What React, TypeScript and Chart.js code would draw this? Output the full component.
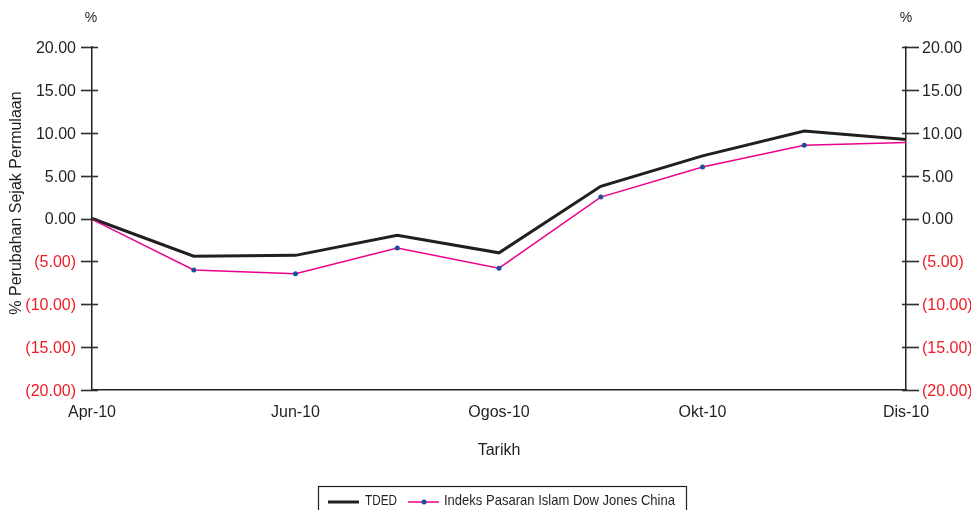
import React, { useEffect, useRef } from "react";
import { Chart, registerables } from "chart.js";

Chart.register(...registerables);

const months = ["Apr-10", "Mei-10", "Jun-10", "Jul-10", "Ogos-10", "Sep-10", "Okt-10", "Nov-10", "Dis-10"];
const tdedValues = [0, -4.4, -4.3, -1.95, -4.0, 3.75, 7.3, 10.2, 9.2];
const djChinaValues = [-0.1, -6.0, -6.45, -3.45, -5.8, 2.5, 6.0, 8.55, 8.85];
const seriesNames = ["TDED", "Indeks Pasaran Islam Dow Jones China"];
const yAxisTitle = "% Perubahan Sejak Permulaan";
const xAxisTitle = "Tarikh";
const unitLabel = "%";

const FONT = "'Liberation Sans', Arial, sans-serif";
const DARK = "#231f20";
const RED = "#ed1c24";
const PINK = "#ec008c";
const BLUE = "#1b4f9c";

const fmt = (v: number) => (v < 0 ? `(${Math.abs(v).toFixed(2)})` : v.toFixed(2));

const extras = {
  id: "extras",
  afterDraw(chart: any) {
    const ctx = chart.ctx;
    const y = chart.scales.y;
    const y2 = chart.scales.y2;
    const x = chart.scales.x;
    ctx.save();
    // tick marks crossing axes
    ctx.strokeStyle = "#2e2e2e";
    ctx.lineWidth = 1.6;
    y.ticks.forEach((t: any) => {
      const py = Math.round(y.getPixelForValue(t.value)) + 0.5;
      ctx.beginPath();
      ctx.moveTo(y.right - 11, py);
      ctx.lineTo(y.right + 6, py);
      ctx.stroke();
    });
    y2.ticks.forEach((t: any) => {
      const py = Math.round(y2.getPixelForValue(t.value)) + 0.5;
      ctx.beginPath();
      ctx.moveTo(y2.left - 4, py);
      ctx.lineTo(y2.left + 13, py);
      ctx.stroke();
    });
    // % labels
    ctx.fillStyle = DARK;
    ctx.font = `14px ${FONT}`;
    ctx.textAlign = "center";
    ctx.textBaseline = "middle";
    ctx.fillText(unitLabel, y.right - 1, 18);
    ctx.fillText(unitLabel, y2.left, 18);
    // y title
    ctx.save();
    ctx.translate(17, 203);
    ctx.rotate(-Math.PI / 2);
    ctx.font = `16px ${FONT}`;
    ctx.fillText(yAxisTitle, 0, 0);
    ctx.restore();
    // x title
    ctx.font = `16px ${FONT}`;
    ctx.fillText(xAxisTitle, (x.left + x.right) / 2, 451);
    // legend
    ctx.strokeStyle = DARK;
    ctx.lineWidth = 1.2;
    ctx.strokeRect(318.5, 486.5, 368, 30);
    ctx.lineWidth = 3;
    ctx.strokeStyle = DARK;
    ctx.beginPath();
    ctx.moveTo(328, 502);
    ctx.lineTo(359, 502);
    ctx.stroke();
    ctx.lineWidth = 1.5;
    ctx.strokeStyle = PINK;
    ctx.beginPath();
    ctx.moveTo(408, 502);
    ctx.lineTo(439, 502);
    ctx.stroke();
    ctx.fillStyle = BLUE;
    ctx.beginPath();
    ctx.arc(424, 502, 2.5, 0, Math.PI * 2);
    ctx.fill();
    ctx.fillStyle = DARK;
    ctx.font = `15px ${FONT}`;
    ctx.textAlign = "left";
    ctx.fillText(seriesNames[0], 365, 501, 32);
    ctx.fillText(seriesNames[1], 444, 501, 231);
    ctx.restore();
  },
};

export default function App() {
  const ref = useRef<HTMLCanvasElement>(null);
  useEffect(() => {
    if (!ref.current) return;
    const tickColor = (c: any) => (c.tick && c.tick.value < 0 ? RED : DARK);
    const lastIdx = djChinaValues.length - 1;
    const chart = new Chart(ref.current, {
      type: "line",
      data: {
        labels: months,
        datasets: [
          {
            label: seriesNames[1],
            data: djChinaValues,
            borderColor: PINK,
            borderWidth: 1.5,
            pointRadius: (c: any) => (c.dataIndex === 0 || c.dataIndex === lastIdx ? 0 : 2.5),
            pointBackgroundColor: BLUE,
            pointBorderWidth: 0,
            tension: 0,
            clip: false as any,
            yAxisID: "y",
          },
          {
            label: seriesNames[0],
            data: tdedValues,
            borderColor: DARK,
            borderWidth: 3,
            pointRadius: 0,
            tension: 0,
            clip: false as any,
            yAxisID: "y",
          },
        ],
      },
      options: {
        responsive: false,
        animation: false,
        devicePixelRatio: 1,
        layout: { padding: { top: 47, left: 0, right: 0, bottom: 0 } },
        plugins: { legend: { display: false }, tooltip: { enabled: false } },
        scales: {
          x: {
            offset: false,
            grid: { display: false, drawTicks: false },
            border: { display: true, color: DARK, width: 1.5 },
            ticks: {
              autoSkip: false,
              maxRotation: 0,
              padding: 13,
              color: DARK,
              font: { family: FONT, size: 16 },
              callback: (_v: any, i: number) => (i % 2 === 0 ? months[i] : ""),
            },
            afterFit: (s: any) => {
              s.height = 120;
            },
          },
          y: {
            position: "left",
            min: -20,
            max: 20,
            grid: { display: false, drawTicks: false },
            border: { display: true, color: DARK, width: 1.5 },
            ticks: {
              stepSize: 5,
              padding: 16,
              labelOffset: 1.5,
              color: tickColor,
              font: { family: FONT, size: 16 },
              callback: (v: any) => fmt(Number(v)),
            },
            afterFit: (s: any) => {
              s.width = 92;
            },
          },
          y2: {
            position: "right",
            min: -20,
            max: 20,
            grid: { display: false, drawTicks: false },
            border: { display: true, color: DARK, width: 1.5 },
            ticks: {
              stepSize: 5,
              padding: 16,
              labelOffset: 1.5,
              color: tickColor,
              font: { family: FONT, size: 16 },
              callback: (v: any) => fmt(Number(v)),
            },
            afterFit: (s: any) => {
              s.width = 65;
            },
          },
        },
      },
      plugins: [extras],
    });
    return () => chart.destroy();
  }, []);
  return (
    <div style={{ position: "fixed", left: 0, top: 0, width: 971, height: 510, background: "#fff" }}>
      <canvas ref={ref} width={971} height={510} style={{ width: 971, height: 510 }} />
    </div>
  );
}
